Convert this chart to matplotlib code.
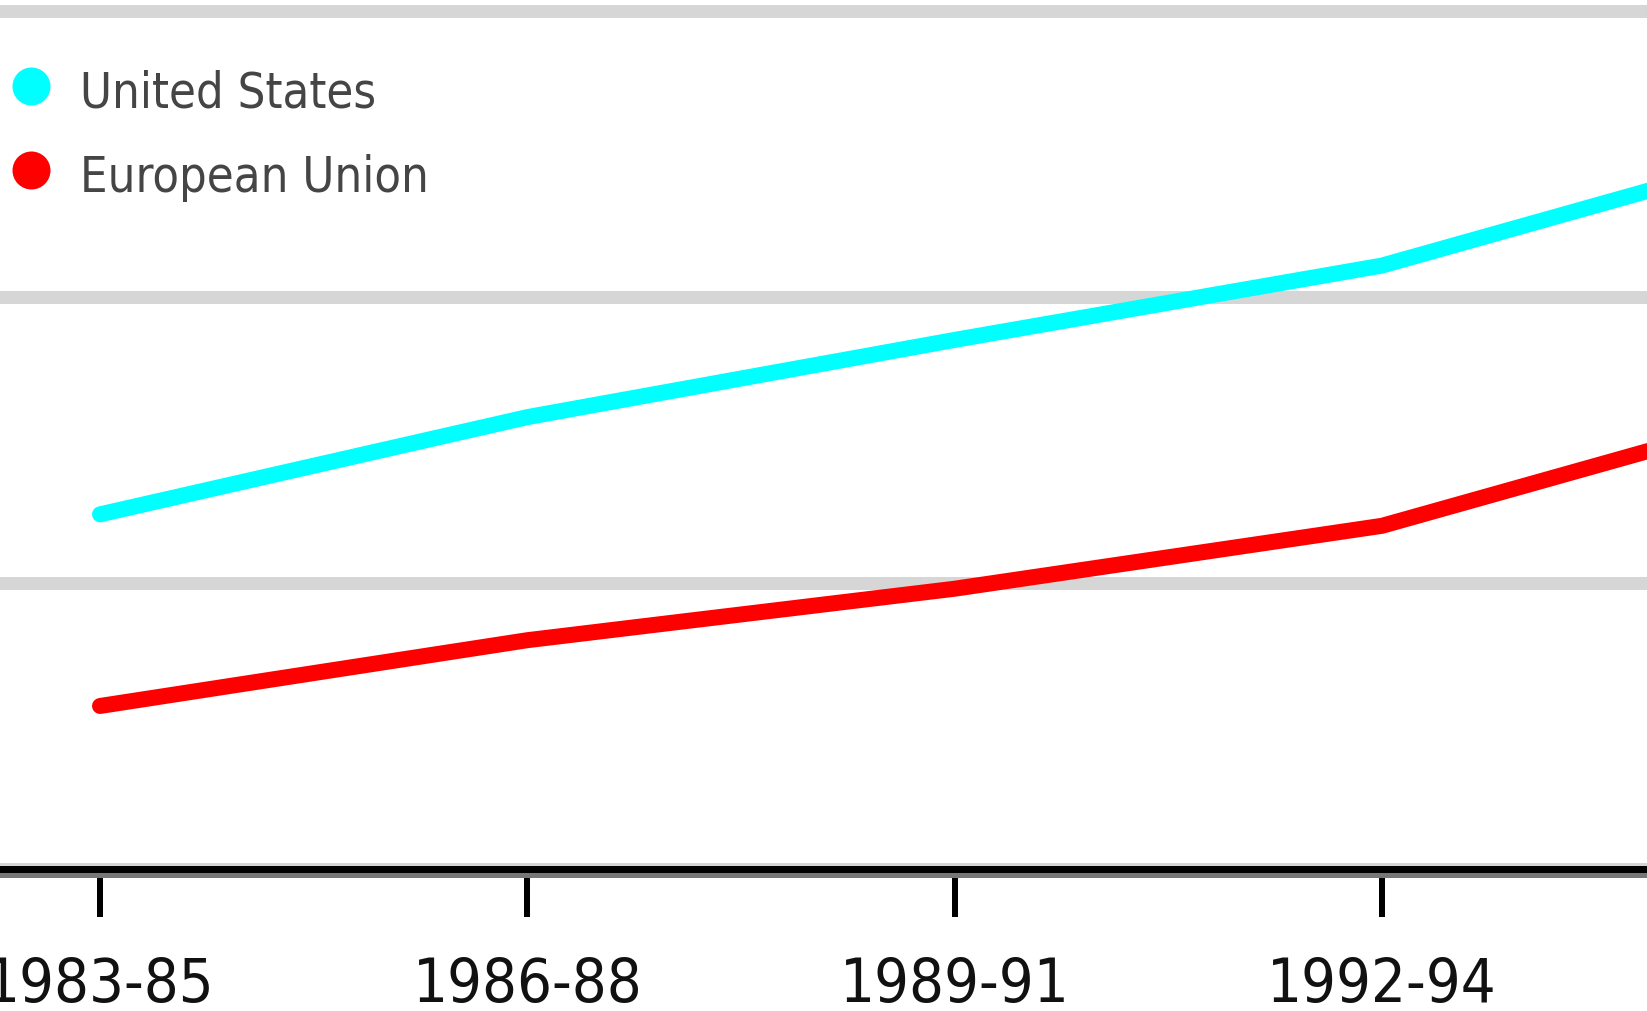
import matplotlib
matplotlib.use("Agg")
import matplotlib.pyplot as plt
import matplotlib.transforms as mtransforms
from matplotlib import font_manager
from matplotlib.font_manager import FontProperties

# Three-year periods on the horizontal axis
periods = ["1983-85", "1986-88", "1989-91", "1992-94", "1995-97"]

# Series values (index, arbitrary units; gridlines at 1, 2, 3)
us_values = [1.24, 1.58, 1.85, 2.11, 2.53]
eu_values = [0.57, 0.80, 0.98, 1.20, 1.62]

series_names = ["United States", "European Union"]
series_colors = ["#00ffff", "#ff0000"]

W, H, DPI = 1647, 1012, 100


def pick_narrow_font():
    """Return a condensed/narrow regular font file if one is installed."""
    best = None
    for f in font_manager.fontManager.ttflist:
        tag = (f.name + " " + f.fname).lower()
        narrow = ("narrow" in tag or "condensed" in tag
                  or f.stretch in ("condensed", "semi-condensed", "extra-condensed"))
        if not narrow:
            continue
        if "bold" in tag or "italic" in tag or "oblique" in tag or "light" in tag:
            continue
        score = 0 if "liberation" in tag else 1 if "dejavu" in tag else 2
        if best is None or score < best[0]:
            best = (score, f.fname)
    return best[1] if best else None


narrow_file = pick_narrow_font()
if narrow_file:
    label_font = FontProperties(fname=narrow_file, size=44)
    legend_font = FontProperties(fname=narrow_file, size=35)
else:
    label_font = FontProperties(family="DejaVu Sans", size=38)
    legend_font = FontProperties(family="DejaVu Sans", size=30)

fig = plt.figure(figsize=(W / DPI, H / DPI), dpi=DPI)
fig.patch.set_facecolor("white")

# Axes: full width, bottom spine at 870 px from the top
bottom_px = 870
ax = fig.add_axes([0, (H - bottom_px) / H, 1, bottom_px / H])
ax.set_facecolor("white")

px = 72 / DPI  # points per pixel
x = list(range(len(periods)))

# Horizontal gridlines
for g in [1, 2, 3]:
    ax.axhline(g, color="#d6d6d6", lw=13 * px, zorder=1)

# Base line: light band, dark shadow and the black axis
ax.axhline(0, color="#d4d4d4", lw=13 * px, zorder=1, clip_on=False)
ax.plot([0, 1], [0, 0], color="#777777", lw=6 * px,
        transform=ax.transAxes + mtransforms.ScaledTranslation(0, -6 / DPI, fig.dpi_scale_trans),
        clip_on=False, zorder=2)

for vals, col in zip([us_values, eu_values], series_colors):
    ax.plot(x, vals, color=col, lw=16 * px, solid_capstyle="round",
            solid_joinstyle="round", zorder=3)

for side in ["top", "left", "right"]:
    ax.spines[side].set_visible(False)
ax.spines["bottom"].set_color("black")
ax.spines["bottom"].set_linewidth(7 * px)
ax.spines["bottom"].set_zorder(4)

ax.set_yticks([])
ax.set_xticks(x)
ax.set_xticklabels(periods, fontproperties=label_font, color="#111111")
ax.tick_params(axis="x", direction="out", length=48 * px, width=6 * px,
               color="black", pad=38 * px)

# View limits set after the ticks so they are not widened
ax.set_xlim(-0.234, 3.62)
ax.set_ylim(0, bottom_px / 286)

# Legend: coloured dots with series names
legend_y = [87, 171]
for name, col, yp in zip(series_names, series_colors, legend_y):
    fig.add_artist(plt.Line2D([31 / W], [1 - yp / H], marker="o", ms=38 * px,
                              color=col, mec="none", transform=fig.transFigure))
    fig.text(80 / W, 1 - (yp + 21) / H, name, fontproperties=legend_font,
             color="#454545", ha="left", va="baseline")

fig.savefig("out.png", dpi=DPI, facecolor="white")
